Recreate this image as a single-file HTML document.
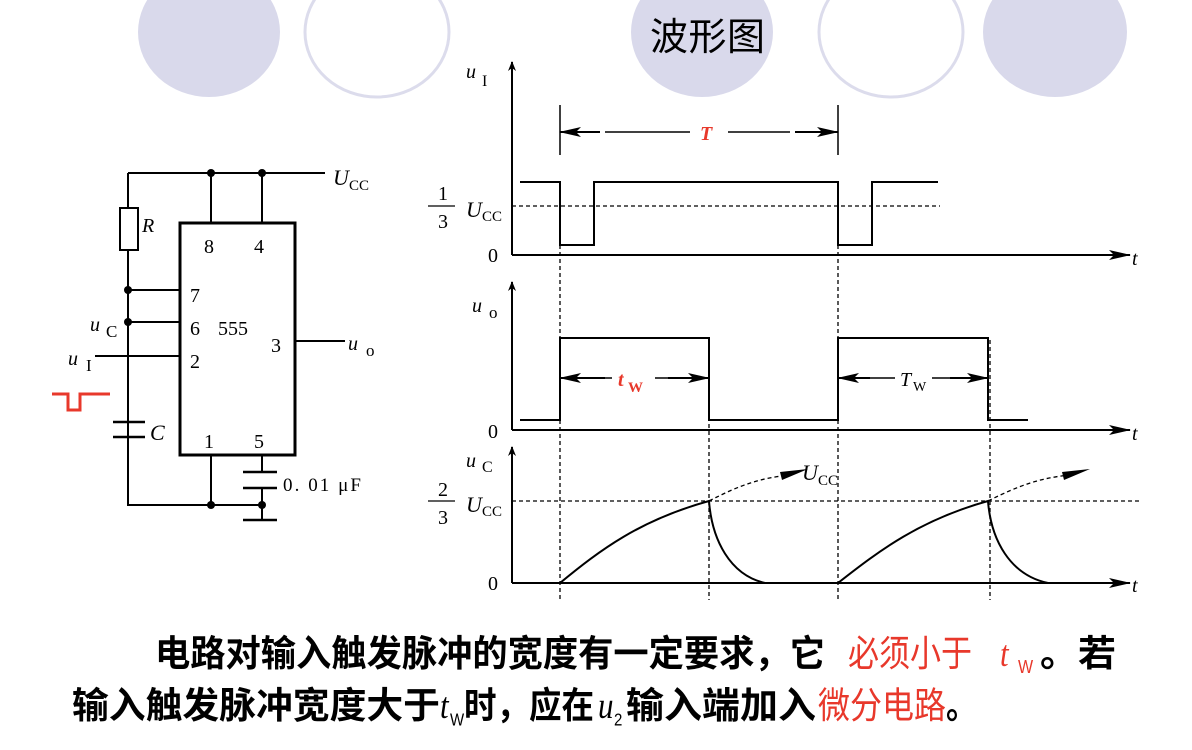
<!DOCTYPE html>
<html><head><meta charset="utf-8"><style>
html,body{margin:0;padding:0;background:#fff;}
svg{display:block;}
.t{font-family:"Liberation Serif","Noto Serif CJK SC",serif;}
.c{font-family:"Liberation Sans","Noto Sans CJK SC",sans-serif;}
</style></head><body>
<svg width="1192" height="750" viewBox="0 0 1192 750" xmlns="http://www.w3.org/2000/svg">
<defs>
<marker id="a" markerWidth="10" markerHeight="8" refX="9" refY="4" orient="auto" markerUnits="userSpaceOnUse"><path d="M0,0 L10,4 L0,8 L3,4 Z" fill="#000"/></marker>
<marker id="b" markerWidth="22" markerHeight="10" refX="21" refY="5" orient="auto" markerUnits="userSpaceOnUse"><path d="M0,0 L22,5 L0,10 L5,5 Z" fill="#000"/></marker>
</defs>
<!-- circles -->
<ellipse cx="209" cy="32" rx="71" ry="65" fill="#d9d9eb"/>
<ellipse cx="377" cy="32" rx="72" ry="65" fill="none" stroke="#dcdcec" stroke-width="3"/>
<ellipse cx="702" cy="32" rx="71" ry="65" fill="#d9d9eb"/>
<ellipse cx="891" cy="32" rx="72" ry="65" fill="none" stroke="#dcdcec" stroke-width="3"/>
<ellipse cx="1055" cy="32" rx="72" ry="65" fill="#d9d9eb"/>
<text x="650" y="50" class="c" font-size="38" textLength="115">波形图</text>

<g stroke="#000" stroke-width="2" fill="none">
<!-- circuit -->
<path d="M128,173 H325"/>
<path d="M128,173 V208 M128,250 V505 H262"/>
<rect x="120" y="208" width="18" height="42"/>
<path d="M211,173 V223 M262,173 V223"/>
<rect x="180" y="223" width="115" height="232" stroke-width="3"/>
<path d="M128,290 H180 M128,322 H180 M95,356 H180 M295,341 H345"/>
<path d="M113,422 H145 M113,437 H145" stroke-width="2.5"/>
<path d="M211,455 V505 M262,455 V472 M262,488 V520"/>
<path d="M243,472 H277 M243,488 H277 M243,520 H277" stroke-width="2.5"/>
</g>
<g fill="#000">
<circle cx="211" cy="173" r="4"/><circle cx="262" cy="173" r="4"/>
<circle cx="128" cy="290" r="4"/><circle cx="128" cy="322" r="4"/>
<circle cx="211" cy="505" r="4"/><circle cx="262" cy="505" r="4"/>
</g>
<path d="M52,394 H68 V410 H80 V394 H110" stroke="#e8382b" stroke-width="3" fill="none"/>
<g class="t" font-size="20">
<text x="333" y="185" font-style="italic" font-size="22">U</text><text x="349" y="190" font-size="15">CC</text>
<text x="142" y="232" font-style="italic">R</text>
<text x="204" y="253">8</text><text x="254" y="253">4</text>
<text x="190" y="302">7</text><text x="190" y="335">6</text><text x="218" y="335">555</text>
<text x="190" y="368">2</text><text x="271" y="352">3</text>
<text x="90" y="331" font-style="italic">u</text><text x="106" y="337" font-size="17">C</text>
<text x="68" y="365" font-style="italic">u</text><text x="86" y="371" font-size="17">I</text>
<text x="348" y="350" font-style="italic">u</text><text x="366" y="356" font-size="17">o</text>
<text x="150" y="440" font-style="italic" font-size="22">C</text>
<text x="204" y="448">1</text><text x="254" y="448">5</text>
<text x="283" y="491" font-size="19" textLength="78">0. 01 μF</text>
</g>

<!-- waveforms -->
<g stroke="#000" stroke-width="2" fill="none">
<path d="M512,255 V62" marker-end="url(#a)"/>
<path d="M512,255 H1130" marker-end="url(#b)"/>
<path d="M512,430 V282" marker-end="url(#a)"/>
<path d="M512,430 H1130" marker-end="url(#b)"/>
<path d="M512,583 V447" marker-end="url(#a)"/>
<path d="M512,583 H1130" marker-end="url(#b)"/>
<path d="M520,182 H560 V245 H594 V182 H838 V245 H872 V182 H938"/>
<path d="M520,420 H560 V338 H709 V420 H838 V338 H988 V420 H1028"/>
<path d="M560,583 C600,550 640,520 709,501 C712,540 730,575 765,583 M838,583 C880,550 920,520 988,501 C991,540 1010,575 1048,583"/>
<path d="M560,105 V155 M838,105 V155" stroke-width="1.5"/>
<path d="M600,132 H560" marker-end="url(#b)"/><path d="M795,132 H838" marker-end="url(#b)"/>
<path d="M605,132 H690 M728,132 H790" stroke-width="1.5"/>
<path d="M605,378 H560" marker-end="url(#b)"/><path d="M668,378 H709" marker-end="url(#b)"/>
<path d="M870,378 H838" marker-end="url(#b)"/><path d="M950,378 H988" marker-end="url(#b)"/>
<path d="M600,378 H612 M655,378 H670 M865,378 H895 M932,378 H955" stroke-width="1.5"/>
</g>
<g stroke="#000" stroke-width="1.3" stroke-dasharray="4,3" fill="none">
<path d="M512,206 H940"/>
<path d="M512,501 H1140"/>
<path d="M560,245 V600 M838,245 V600 M709,340 V600 M990,340 V600"/>
<path d="M709,501 C740,485 760,478 790,475"/>
<path d="M988,501 C1020,485 1040,478 1070,475"/>
</g>
<path d="M780,472 L808,469 L782,480 Z" fill="#000"/>
<path d="M1062,472 L1090,469 L1064,480 Z" fill="#000"/>
<g class="t" font-size="20">
<text x="466" y="78" font-style="italic">u</text><text x="482" y="86" font-size="16">I</text>
<text x="438" y="200" font-size="20">1</text><path d="M428,206 H455" stroke="#000" stroke-width="1.3"/><text x="438" y="228" font-size="20">3</text>
<text x="466" y="217" font-style="italic" font-size="22">U</text><text x="482" y="221" font-size="15">CC</text>
<text x="488" y="262">0</text>
<text x="1132" y="265" font-style="italic">t</text>
<text x="700" y="140" font-style="italic" font-weight="bold" fill="#e8382b">T</text>
<text x="472" y="312" font-style="italic">u</text><text x="489" y="318" font-size="17">o</text>
<text x="488" y="438">0</text>
<text x="1132" y="440" font-style="italic">t</text>
<text x="618" y="386" font-style="italic" font-weight="bold" fill="#e8382b">t</text><text x="628" y="392" font-size="15" font-weight="bold" fill="#e8382b">W</text>
<text x="900" y="386" font-style="italic">T</text><text x="913" y="391" font-size="14">W</text>
<text x="466" y="467" font-style="italic">u</text><text x="482" y="472" font-size="16">C</text>
<text x="438" y="496" font-size="20">2</text><path d="M428,501 H455" stroke="#000" stroke-width="1.3"/><text x="438" y="524" font-size="20">3</text>
<text x="466" y="512" font-style="italic" font-size="22">U</text><text x="482" y="516" font-size="15">CC</text>
<text x="488" y="590">0</text>
<text x="1132" y="592" font-style="italic">t</text>
<text x="802" y="480" font-style="italic" font-size="22">U</text><text x="818" y="485" font-size="15">CC</text>
</g>

<!-- bottom text -->
<g class="c" font-size="31" font-weight="bold" transform="translate(0,-120) scale(1,1.18)">
<text x="155" y="666" textLength="670" lengthAdjust="spacingAndGlyphs">电路对输入触发脉冲的宽度有一定要求，它</text>
<text x="848" y="666" fill="#e8382b" font-weight="normal" textLength="124" lengthAdjust="spacingAndGlyphs">必须小于</text>
<text x="1000" y="666" fill="#e8382b" font-weight="normal" class="t" font-style="italic">t</text><text x="1018" y="672" fill="#e8382b" font-weight="normal" font-size="16">W</text>
<text x="1040" y="666" textLength="76" lengthAdjust="spacingAndGlyphs">。若</text>
</g>
<g class="c" font-size="31" font-weight="bold" transform="translate(0,-129) scale(1,1.18)">
<text x="72" y="718" textLength="368" lengthAdjust="spacingAndGlyphs">输入触发脉冲宽度大于</text>
<text x="440" y="718" class="t" font-weight="normal" font-style="italic">t</text><text x="450" y="724" font-weight="normal" font-size="15">W</text>
<text x="464" y="718" textLength="130" lengthAdjust="spacingAndGlyphs">时，应在</text>
<text x="598" y="718" class="t" font-weight="normal" font-style="italic">u</text><text x="614" y="724" font-weight="normal" font-size="15">2</text>
<text x="626" y="718" textLength="190" lengthAdjust="spacingAndGlyphs">输入端加入</text>
<text x="818" y="718" fill="#e8382b" font-weight="normal" textLength="128" lengthAdjust="spacingAndGlyphs">微分电路</text>
<text x="946" y="718">。</text>
</g>
</svg>
</body></html>
